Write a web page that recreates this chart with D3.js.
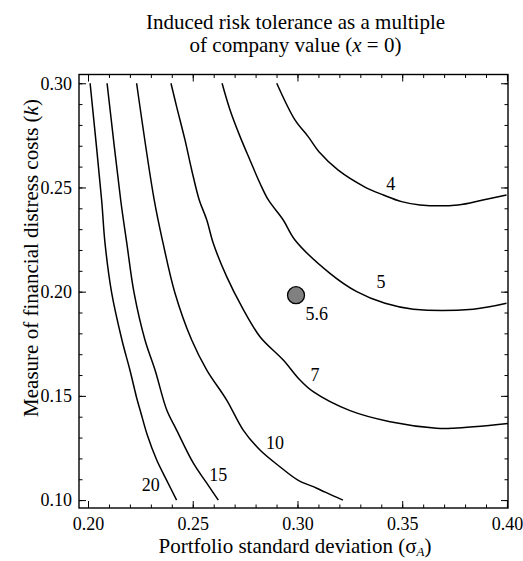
<!DOCTYPE html>
<html>
<head>
<meta charset="utf-8">
<script src="https://cdn.jsdelivr.net/npm/d3@7"></script>
<style>
  body { margin: 0; background: #fff; }
  svg text { font-family: "Liberation Serif", "DejaVu Serif", serif; fill: #000; }
</style>
</head>
<body>
<svg id="chart" width="523" height="561"></svg>
<script>
// contour lines: [sigma, k]
const c20 = [[0.2010,0.3000],[0.2065,0.2440],[0.2081,0.2234],[0.2113,0.1994],[0.2162,0.1768],[0.2200,0.1624],
  [0.2235,0.1480],[0.2251,0.1424],[0.2283,0.1312],[0.2328,0.1192],[0.2375,0.1096],[0.2423,0.1000]];
const c15 = [[0.2091,0.3000],[0.2156,0.2440],[0.2185,0.2234],[0.2220,0.1994],[0.2272,0.1768],[0.2320,0.1624],
  [0.2376,0.1432],[0.2423,0.1336],[0.2503,0.1177],[0.2567,0.1081],[0.2622,0.1000]];
const c10 = [[0.2232,0.3000],[0.2316,0.2440],[0.2358,0.2234],[0.2415,0.1994],[0.2495,0.1768],[0.2567,0.1624],
  [0.2662,0.1480],[0.2741,0.1336],[0.2821,0.1240],[0.2916,0.1160],[0.3002,0.1096],[0.3092,0.1057],
  [0.3171,0.1020],[0.3217,0.1000]];
const c7 = [[0.2396,0.3000],[0.2423,0.2888],[0.2463,0.2728],[0.2495,0.2584],[0.2531,0.2440],[0.2567,0.2344],
  [0.2598,0.2232],[0.2662,0.2072],[0.2734,0.1928],[0.2821,0.1784],[0.2932,0.1672],[0.3012,0.1576],
  [0.3075,0.1520],[0.3251,0.1429],[0.3442,0.1376],[0.3664,0.1345],[0.3744,0.1345],[0.4005,0.1368]];
const c5 = [[0.2640,0.3000],[0.2678,0.2872],[0.2726,0.2744],[0.2773,0.2632],[0.2821,0.2520],[0.2861,0.2440],
  [0.2932,0.2344],[0.2988,0.2248],[0.3155,0.2088],[0.3283,0.2000],[0.3418,0.1944],[0.3553,0.1916],
  [0.3839,0.1916],[0.3998,0.1944]];
const c4 = [[0.2901,0.3000],[0.2988,0.2824],[0.3051,0.2744],[0.3107,0.2666],[0.3193,0.2584],[0.3322,0.2502],
  [0.3410,0.2464],[0.3497,0.2432],[0.3585,0.2416],[0.3766,0.2416],[0.3885,0.2440],[0.3998,0.2464]];
const contours = [c20, c15, c10, c7, c5, c4];

// contour labels [sigma, k, text]
const contourLabels = [[0.3445,0.2520,"4"],[0.3399,0.2048,"5"],[0.3084,0.1600,"7"],[0.2893,0.1274,"10"],
  [0.2622,0.1120,"15"],[0.2299,0.1072,"20"]];

// marked point
const point = [0.2993, 0.1983];
const pointLabel = [0.3092, 0.1896, "5.6"];

const xMajor = [0.20, 0.25, 0.30, 0.35, 0.40];
const yMajor = [0.10, 0.15, 0.20, 0.25, 0.30];
const xMinor = d3.range(21).map(i => 0.20 + i * 0.01);
const yMinor = d3.range(21).map(i => 0.10 + i * 0.01);

const svg = d3.select('#chart');
const L = 79, R = 508, T = 74.5, B = 508;

const x = d3.scaleLinear().domain([0.1957, 0.4005]).range([L, R]);
const y = d3.scaleLinear().domain([0.0962, 0.3042]).range([B, T]);

const fmt = d3.format('.2f');

// frame ticks (inside)
function ticks(axisFn, pos, vals, size, labels, pad) {
  const a = axisFn(axisFn === d3.axisBottom || axisFn === d3.axisTop ? x : y)
    .tickValues(vals).tickSizeInner(-size).tickSizeOuter(0)
    .tickFormat(labels ? fmt : '').tickPadding(pad || 0);
  const g = svg.append('g').attr('transform', pos).call(a);
  g.attr('font-family', null).attr('font-size', null);
  g.select('.domain').remove();
  g.selectAll('line').attr('stroke', '#000').attr('stroke-width', 1);
  g.selectAll('text').style('font-size', '18px');
  return g;
}
ticks(d3.axisBottom, `translate(0,${B})`, xMinor, 3.5, false);
ticks(d3.axisBottom, `translate(0,${B})`, xMajor, 7, true, 9);
ticks(d3.axisTop, `translate(0,${T})`, xMinor, 3.5, false);
ticks(d3.axisTop, `translate(0,${T})`, xMajor, 7, false);
ticks(d3.axisLeft, `translate(${L},0)`, yMinor, 3.5, false);
ticks(d3.axisLeft, `translate(${L},0)`, yMajor, 7, true, 7);
ticks(d3.axisRight, `translate(${R},0)`, yMinor, 3.5, false);
ticks(d3.axisRight, `translate(${R},0)`, yMajor, 7, false);

svg.append('rect')
  .attr('x', L).attr('y', T).attr('width', R - L).attr('height', B - T)
  .attr('fill', 'none').attr('stroke', '#000').attr('stroke-width', 1.4);

// contours
const line = d3.line()
  .x(d => x(d[0])).y(d => y(d[1]))
  .curve(d3.curveCatmullRom.alpha(0.5));

svg.append('g').selectAll('path')
  .data(contours).enter().append('path')
  .attr('d', line)
  .attr('fill', 'none')
  .attr('stroke', '#000')
  .attr('stroke-width', 1.5);

svg.append('g').selectAll('text')
  .data(contourLabels).enter().append('text')
  .attr('x', d => x(d[0])).attr('y', d => y(d[1]))
  .attr('dy', '0.35em')
  .attr('text-anchor', 'middle')
  .style('font-size', '18px')
  .text(d => d[2]);

svg.append('circle')
  .attr('cx', x(point[0])).attr('cy', y(point[1]))
  .attr('r', 8.5)
  .attr('fill', '#808080').attr('stroke', '#000').attr('stroke-width', 1.3);

svg.append('text')
  .attr('x', x(pointLabel[0])).attr('y', y(pointLabel[1]))
  .attr('dy', '0.35em').attr('text-anchor', 'middle')
  .style('font-size', '18px')
  .text(pointLabel[2]);

// title
const title = svg.append('text').attr('text-anchor', 'middle').style('font-size', '21px');
title.append('tspan').attr('x', 295.5).attr('y', 29).text('Induced risk tolerance as a multiple');
const t2 = title.append('tspan').attr('x', 295.5).attr('y', 52);
t2.append('tspan').text('of company value (');
t2.append('tspan').style('font-style', 'italic').text('x');
t2.append('tspan').text(' = 0)');

// x title
const xt = svg.append('text').attr('x', 295).attr('y', 553)
  .attr('text-anchor', 'middle').style('font-size', '21px');
xt.append('tspan').text('Portfolio standard deviation (σ');
xt.append('tspan').attr('dy', 3).style('font-size', '13px').style('font-style', 'italic').text('A');
xt.append('tspan').attr('dy', -3).text(')');

// y title
const yt = svg.append('text')
  .attr('transform', 'translate(38,258) rotate(-90)')
  .attr('text-anchor', 'middle').style('font-size', '21px');
yt.append('tspan').text('Measure of financial distress costs (');
yt.append('tspan').style('font-style', 'italic').text('k');
yt.append('tspan').text(')');
</script>
</body>
</html>
